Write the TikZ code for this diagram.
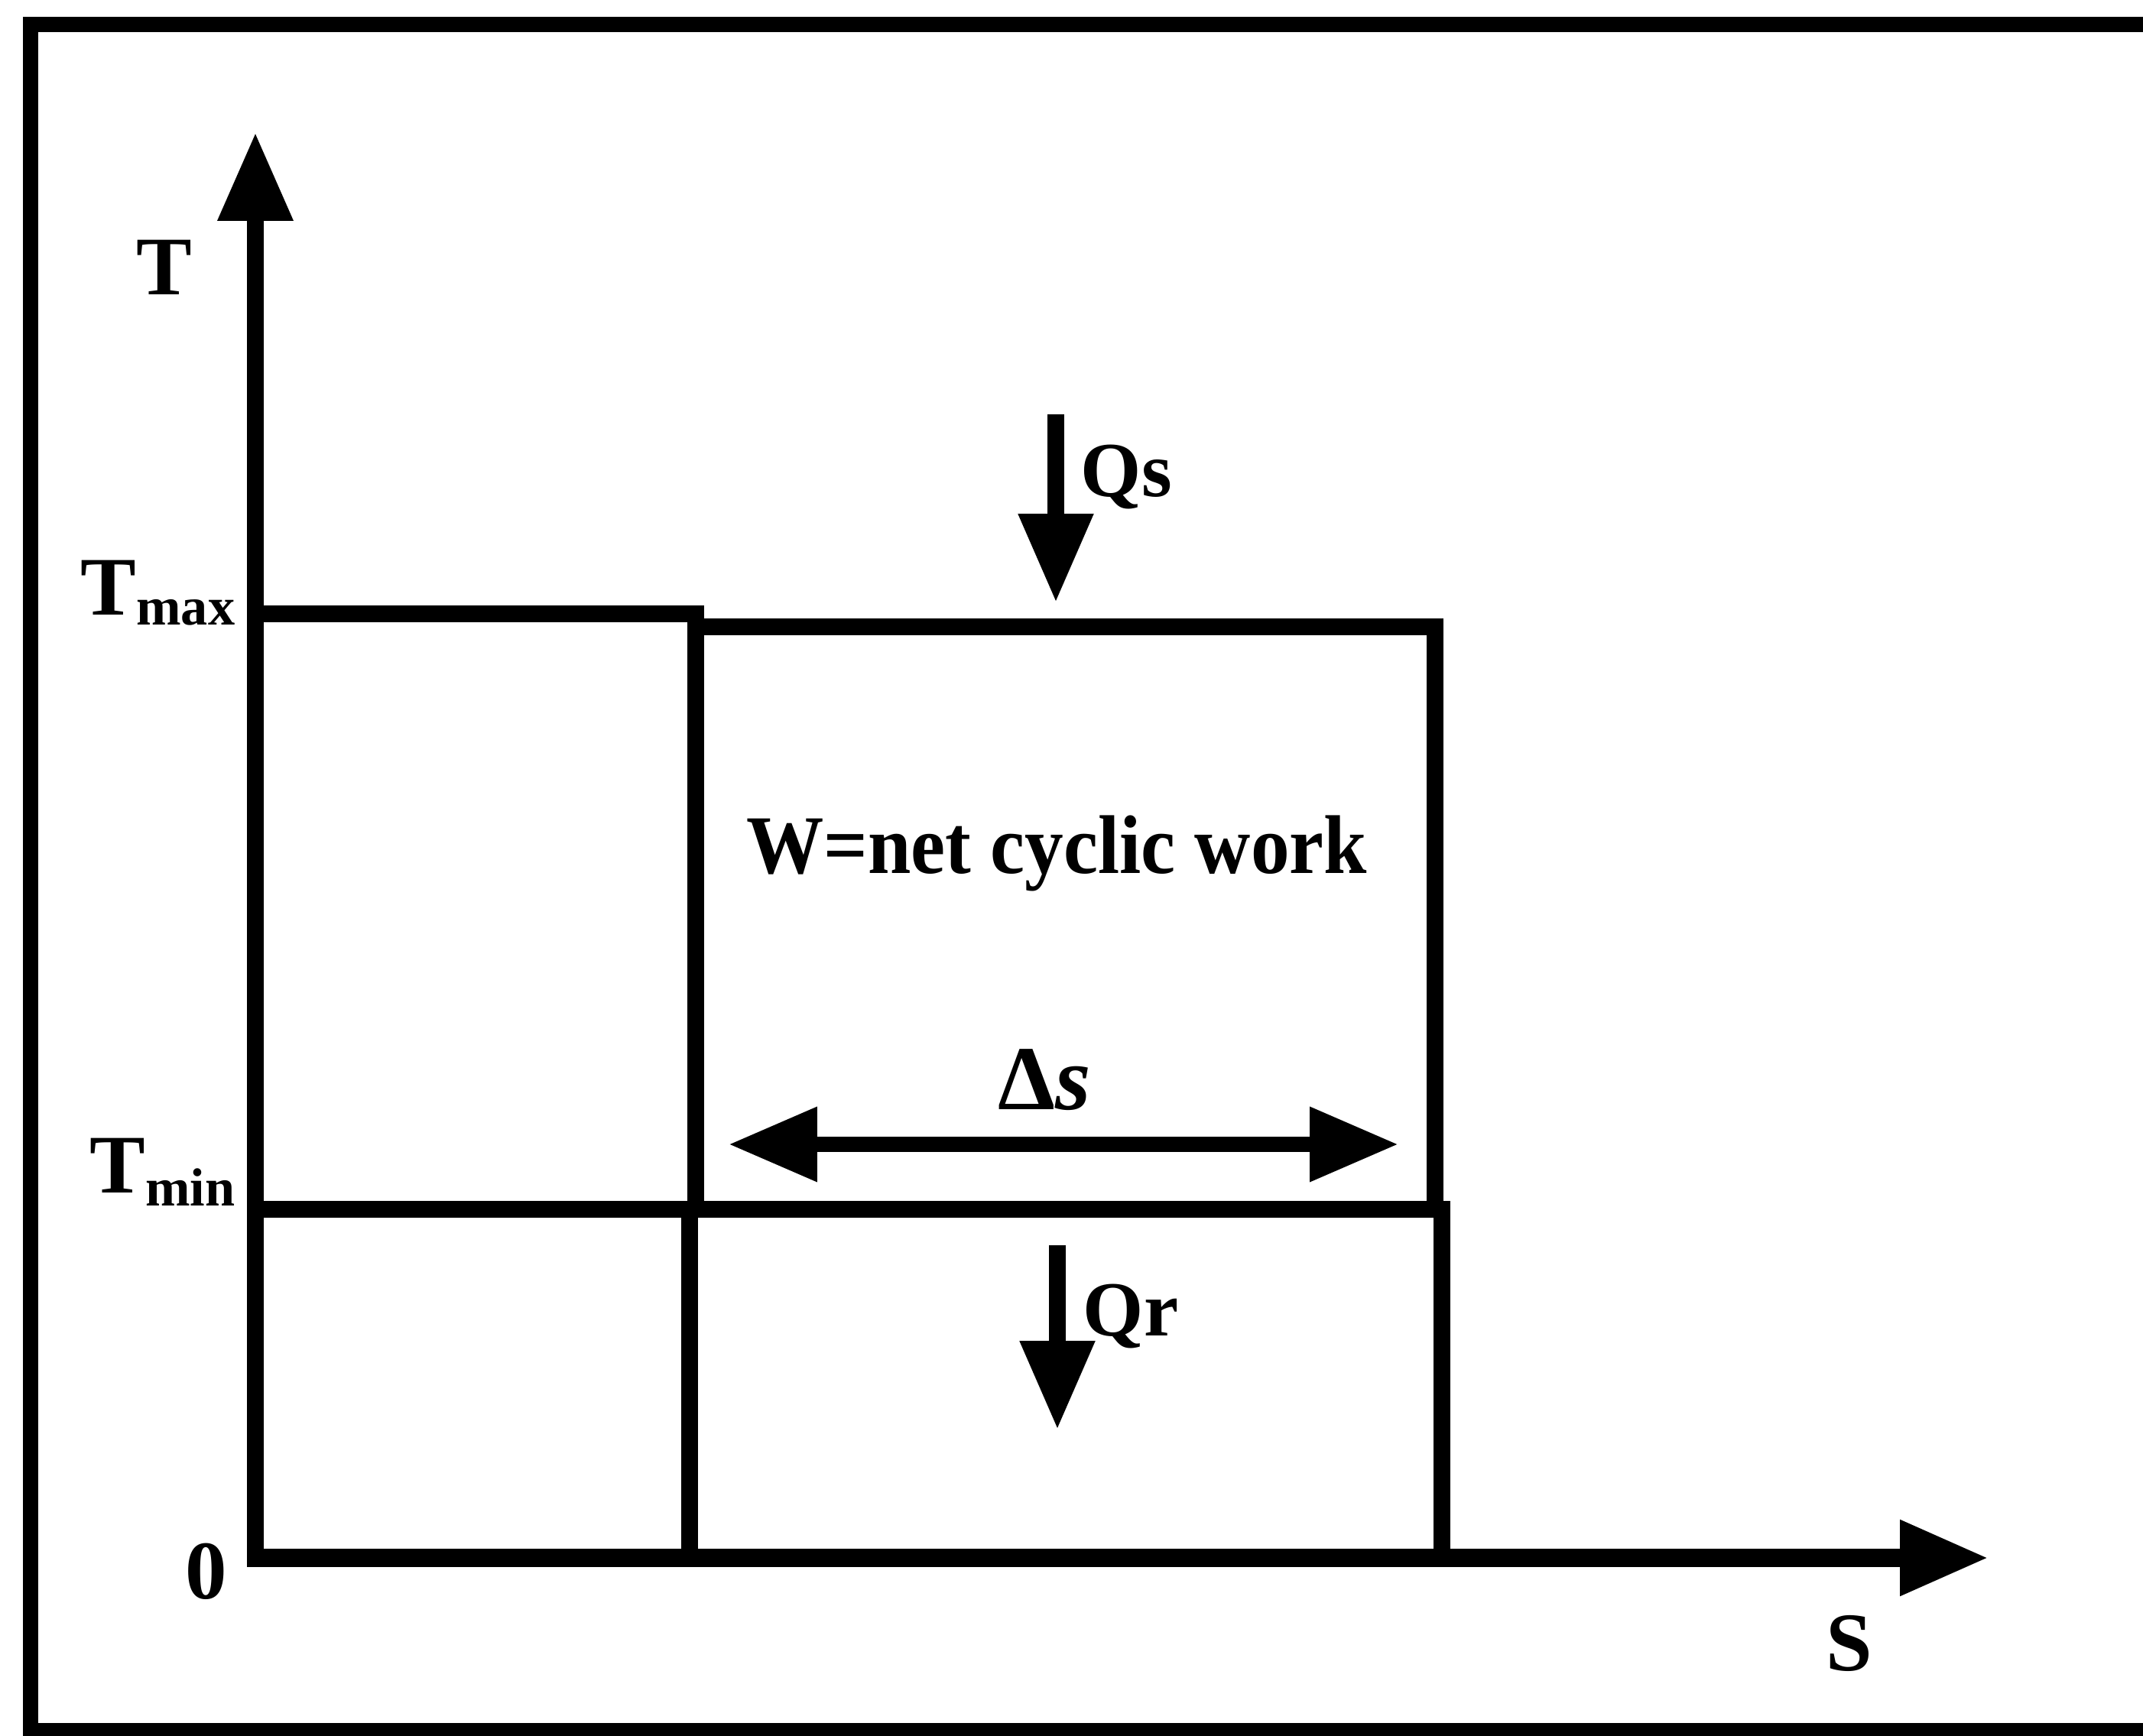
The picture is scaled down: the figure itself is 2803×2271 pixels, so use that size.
\documentclass[tikz,border=0pt]{standalone}
\usepackage{fontspec}
\setmainfont{Liberation Serif}
\usetikzlibrary{arrows.meta}
\begin{document}
\begin{tikzpicture}[x=0.1mm,y=-0.1mm,
  lbl/.style={inner sep=0pt, font=\bfseries\fontsize{31}{31}\selectfont},
  qlbl/.style={inner sep=0pt, font=\bfseries\fontsize{29}{29}\selectfont},
  frameline/.style={line width=5.7pt, line join=miter},
  boxline/.style={line width=6.2pt, line cap=rect, line join=miter},
  axisline/.style={line width=6.4pt},
  bigtip/.style={-{Triangle[length=33pt,width=26.5pt]}},
  dbltip/.style={{Triangle[length=33pt,width=26.5pt]}-{Triangle[length=33pt,width=26.5pt]}}
]
\useasboundingbox (0,0) rectangle (2803,2271);
\clip (0,0) rectangle (2803,2271);
\fill[white] (0,0) rectangle (2803,2271);
% frame (right edge lies outside the picture)
\draw[frameline] (2900,32) -- (40,32) -- (40,2264) -- (2900,2264);
% coordinates
\coordinate (O) at (334,2038);
\coordinate (ytip) at (334,173);
\coordinate (xtip) at (2601,2038);
\coordinate (tmaxA) at (334,803);
\coordinate (tmaxB) at (910,803);
\coordinate (tmaxC) at (910,820);
\coordinate (tmaxD) at (1877,820);
\coordinate (tminA) at (334,1582);
\coordinate (tminB) at (1886,1582);
\coordinate (midU) at (910,1582);
\coordinate (midL) at (902,1582);
\coordinate (midB) at (902,2038);
\coordinate (rightU) at (1877,1582);
\coordinate (rightL) at (1886,1582);
\coordinate (rightB) at (1886,2038);
\coordinate (qsA) at (1381,542);
\coordinate (qsB) at (1381,788);
\coordinate (qrA) at (1383,1629);
\coordinate (qrB) at (1383,1870);
\coordinate (dsA) at (953,1497);
\coordinate (dsB) at (1829,1497);
% boxes
\draw[boxline] (tmaxA) -- (tmaxB);
\draw[boxline] (midU) -- (tmaxC) -- (tmaxD) -- (rightU);
\draw[boxline] (tminA) -- (tminB);
\draw[boxline] (midL) -- (midB);
\draw[boxline] (rightL) -- (rightB);
% axes
\draw[axisline, bigtip] ([yshift=-3.2pt]O) -- (ytip);
\draw[axisline, line width=6.8pt, bigtip] ([xshift=-3.2pt]O) -- (xtip);
% heat arrows
\draw[line width=6pt, bigtip] (qsA) -- (qsB);
\draw[line width=6pt, bigtip] (qrA) -- (qrB);
\draw[line width=5.7pt, dbltip] (dsA) -- (dsB);
% labels
\node[lbl] (T) at (215,350) {T};
\node[lbl, anchor=base west] (Tmax) at (105,805) {T\raisebox{-3.7pt}{\fontsize{20}{20}\selectfont max}};
\node[lbl, anchor=base west] (Tmin) at (117,1560) {T\raisebox{-5pt}{\fontsize{20}{20}\selectfont min}};
\node[lbl] (zero) at (270,2056) {0};
\node[lbl] (S) at (2419,2150) {S};
\node[lbl, anchor=base] (W) at (1382,1143) {\scalebox{0.93}[1]{W=net cyclic work}};
\node[lbl, anchor=base west, font=\bfseries\fontsize{34}{34}\selectfont] (ds) at (1305,1451) {Δ\textit{s}};
\node[qlbl, anchor=base west] (Qs) at (1413,650) {Qs};
\node[qlbl, anchor=base west] (Qr) at (1416,1747) {Qr};
\end{tikzpicture}
\end{document}
